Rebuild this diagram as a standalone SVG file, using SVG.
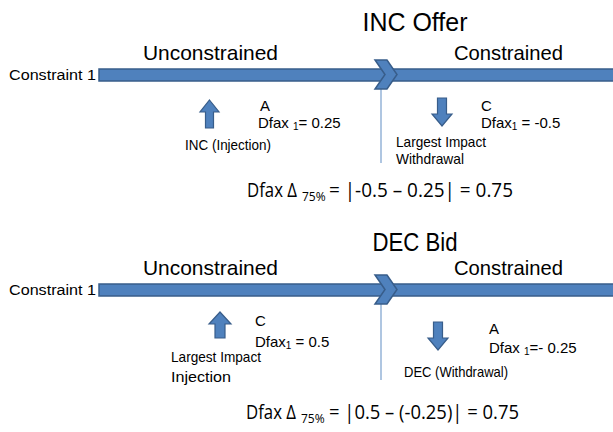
<svg xmlns="http://www.w3.org/2000/svg" width="613" height="432" viewBox="0 0 613 432">
<style>
.t{font-family:"Liberation Sans",Arial,sans-serif;fill:#000}
.title{font-size:25px}
.hdr{font-size:21px}
.lbl{font-size:15px}
.small{font-size:14px}
.f{font-family:"Open Sans","Noto Sans",sans-serif;font-size:20px;fill:#000}
.fs{font-family:"Open Sans","Noto Sans",sans-serif;font-size:12px;fill:#000}
.bar{fill:#4F81BD;stroke:#385D8A;stroke-width:1.5}
.arr{fill:#4F81BD;stroke:#385D8A;stroke-width:1.2}
.vl{stroke:#95B3D7;stroke-width:1.5;fill:none}
</style>
<rect width="613" height="432" fill="#fff"/>

<!-- INC Offer section -->
<g id="inc-title"><text class="t title" x="415" y="31" text-anchor="middle" textLength="105" lengthAdjust="spacingAndGlyphs">INC Offer</text></g>
<g id="inc-unconstrained"><text class="t hdr" x="143" y="60" textLength="135" lengthAdjust="spacingAndGlyphs">Unconstrained</text></g>
<g id="inc-constrained"><text class="t hdr" x="454" y="60" textLength="109" lengthAdjust="spacingAndGlyphs">Constrained</text></g>
<g id="inc-constraint-label"><text class="t small" x="9" y="80" textLength="87" lengthAdjust="spacingAndGlyphs">Constraint 1</text></g>

<g id="connectors">
<line class="vl" x1="381" y1="89" x2="381" y2="163"/>
<line class="vl" x1="381" y1="304" x2="381" y2="380"/>
</g>

<g id="inc-bar">
<rect class="bar" x="99" y="69" width="520" height="12"/>
<polygon class="bar" points="375,60 387,60 397,74.5 387,89 375,89 385,74.5"/>
</g>

<g id="inc-A">
<polygon class="arr" points="209.5,100 219,112 213.5,112 213.5,128 205.5,128 205.5,112 200,112"/>
<text class="t lbl" x="260" y="111">A</text>
<text class="t lbl" x="258" y="128">Dfax <tspan font-size="10" dy="2">1</tspan><tspan dy="-2">= 0.25</tspan></text>
<text class="t lbl" x="185" y="150" textLength="86" lengthAdjust="spacingAndGlyphs">INC (Injection)</text>
</g>

<g id="inc-C">
<polygon class="arr" points="437.5,98 446.5,98 446.5,114 452,114 442,126 432,114 437.5,114"/>
<text class="t lbl" x="481" y="111">C</text>
<text class="t lbl" x="481" y="128">Dfax<tspan font-size="10" dy="2">1</tspan><tspan dy="-2"> = -0.5</tspan></text>
<text class="t lbl" x="396" y="147" textLength="90" lengthAdjust="spacingAndGlyphs">Largest Impact</text>
<text class="t lbl" x="396" y="164" textLength="68" lengthAdjust="spacingAndGlyphs">Withdrawal</text>
</g>

<g id="inc-formula">
<text class="f" transform="translate(247,197) scale(0.84,1)">Dfax Δ</text>
<text class="fs" x="302" y="201">75%</text>
<text class="f" x="329" y="197" textLength="184" lengthAdjust="spacingAndGlyphs">= |-0.5 – 0.25| = 0.75</text>
</g>

<!-- DEC Bid section -->
<g id="dec-title"><text class="t title" x="415" y="251" text-anchor="middle" textLength="85" lengthAdjust="spacingAndGlyphs">DEC Bid</text></g>
<g id="dec-unconstrained"><text class="t hdr" x="143" y="275" textLength="135" lengthAdjust="spacingAndGlyphs">Unconstrained</text></g>
<g id="dec-constrained"><text class="t hdr" x="454" y="275" textLength="109" lengthAdjust="spacingAndGlyphs">Constrained</text></g>
<g id="dec-constraint-label"><text class="t small" x="9" y="295" textLength="87" lengthAdjust="spacingAndGlyphs">Constraint 1</text></g>

<g id="dec-bar">
<rect class="bar" x="99" y="284" width="520" height="12"/>
<polygon class="bar" points="375,275 387,275 397,289.5 387,304 375,304 385,289.5"/>
</g>

<g id="dec-C">
<polygon class="arr" points="220,312 231,324 225,324 225,338 215,338 215,324 209,324"/>
<text class="t lbl" x="255" y="326">C</text>
<text class="t lbl" x="255" y="347">Dfax<tspan font-size="10" dy="2">1</tspan><tspan dy="-2"> = 0.5</tspan></text>
<text class="t lbl" x="171" y="362" textLength="90" lengthAdjust="spacingAndGlyphs">Largest Impact</text>
<text class="t lbl" x="171" y="382" textLength="60" lengthAdjust="spacingAndGlyphs">Injection</text>
</g>

<g id="dec-A">
<polygon class="arr" points="433.5,322 442.5,322 442.5,338 448,338 438,350 428,338 433.5,338"/>
<text class="t lbl" x="489" y="334">A</text>
<text class="t lbl" x="489" y="353">Dfax <tspan font-size="10" dy="2">1</tspan><tspan dy="-2">=- 0.25</tspan></text>
<text class="t lbl" x="404" y="377" textLength="104" lengthAdjust="spacingAndGlyphs">DEC (Withdrawal)</text>
</g>

<g id="dec-formula">
<text class="f" transform="translate(246,419) scale(0.84,1)">Dfax Δ</text>
<text class="fs" x="301" y="423">75%</text>
<text class="f" x="329" y="419" textLength="190" lengthAdjust="spacingAndGlyphs">= |0.5 – (-0.25)| = 0.75</text>
</g>
</svg>
